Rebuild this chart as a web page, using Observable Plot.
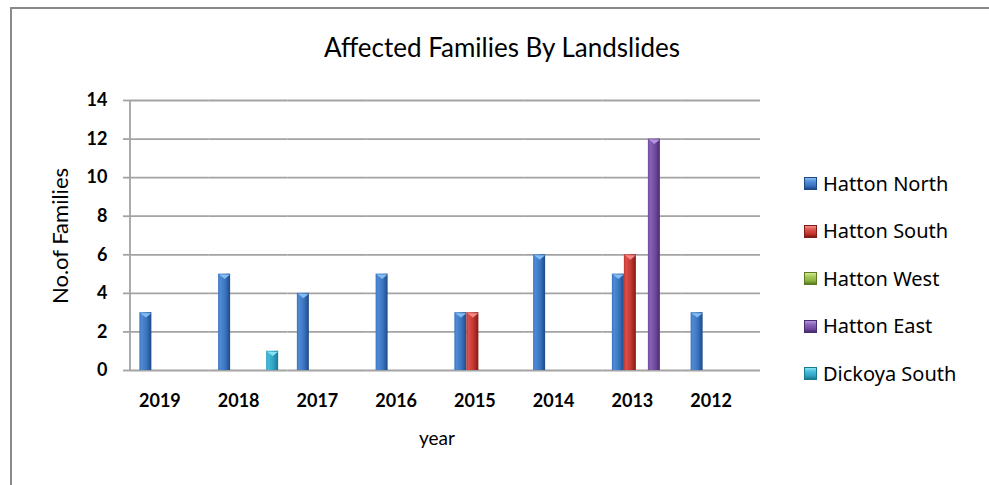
<!DOCTYPE html>
<html>
<head>
<meta charset="utf-8">
<script src="https://cdn.jsdelivr.net/npm/d3@7"></script>
<script src="https://cdn.jsdelivr.net/npm/@observablehq/plot@0.6"></script>
<style>
  html, body { margin: 0; padding: 0; background: #fff; }
  #wrap { position: relative; width: 989px; height: 485px; overflow: hidden; background: #fff; }
  #border { position: absolute; left: 10px; top: 7px; width: 1100px; height: 600px; border: 2px solid #8a8a8a; box-sizing: border-box; }
  #chart { position: absolute; left: 0; top: 0; }
  .title { position: absolute; left: 11px; width: 982px; top: 34px; text-align: center; font-family: Lato, sans-serif; font-size: 26px; line-height: 26px; color: #000; white-space: nowrap; }
  .ylabel { position: absolute; left: 60px; top: 236px; transform: translate(-50%, -50%) rotate(-90deg); font-family: Lato, sans-serif; font-size: 22px; line-height: 22px; color: #000; white-space: nowrap; }
  .xlabel { position: absolute; left: 437px; top: 437px; transform: translate(-50%, -50%); font-family: Lato, sans-serif; font-size: 19px; line-height: 19px; color: #000; white-space: nowrap; }
  .legend { position: absolute; left: 804px; top: 160px; font-family: "Noto Sans", sans-serif; font-size: 20px; color: #000; }
  .legend .item { display: flex; align-items: center; height: 47.5px; line-height: 20px; white-space: nowrap; }
  .legend .sw { width: 13px; height: 13px; margin-right: 6px; box-sizing: border-box; flex: none; }
</style>
</head>
<body>
<div id="wrap">
  <div id="border"></div>
  <div id="chart"></div>
  <div class="title" id="title"></div>
  <div class="ylabel" id="ylabel"></div>
  <div class="xlabel" id="xlabel"></div>
  <div class="legend" id="legend"></div>
</div>
<script>
// ---- data ----
const chartTitle = "Affected Families By Landslides";
const yAxisTitle = "No.of Families";
const xAxisTitle = "year";
const years = ["2019", "2018", "2017", "2016", "2015", "2014", "2013", "2012"];
const seriesNames = ["Hatton North", "Hatton South", "Hatton West", "Hatton East", "Dickoya South"];
const hattonNorth  = [3, 5, 4, 5, 3, 6, 5, 3];
const hattonSouth  = [0, 0, 0, 0, 3, 0, 6, 0];
const hattonWest   = [0, 0, 0, 0, 0, 0, 0, 0];
const hattonEast   = [0, 0, 0, 0, 0, 0, 12, 0];
const dickoyaSouth = [0, 1, 0, 0, 0, 0, 0, 0];
const yTicks = [0, 2, 4, 6, 8, 10, 12, 14];

// ---- styles ----
const palette = [
  { dark: "#1d4a85", base: "#3a74c0", light: "#4f8ad4", tip: "#84bdf2" },
  { dark: "#7e1a17", base: "#c4352f", light: "#d8504a", tip: "#f58a86" },
  { dark: "#5c7a22", base: "#8db33f", light: "#a3c857", tip: "#cfe98c" },
  { dark: "#4a2c74", base: "#71499f", light: "#8562b3", tip: "#b295de" },
  { dark: "#1a7891", base: "#2ea3c3", light: "#45bad8", tip: "#86e2f4" }
];

const valuesBySeries = [hattonNorth, hattonSouth, hattonWest, hattonEast, dickoyaSouth];
const rows = [];
years.forEach((yr, i) => seriesNames.forEach((s, j) => rows.push({ year: yr, series: s, value: valuesBySeries[j][i] })));
const shown = rows.filter(d => d.value > 0);
const sIndex = s => seriesNames.indexOf(s);

const bevel = {
  draw(ctx, size) {
    const w = Math.sqrt(size);
    ctx.moveTo(-w, 0);
    ctx.lineTo(w, 0);
    ctx.lineTo(0, w * 0.8);
    ctx.closePath();
  }
};

const gridColor = "#a3a3a3";

const chart = Plot.plot({
  width: 989,
  height: 485,
  marginLeft: 130,
  marginRight: 229,
  marginTop: 100,
  marginBottom: 115,
  style: { fontFamily: "Lato, sans-serif", fontSize: "18px", fontWeight: 700, color: "#000", background: "transparent", overflow: "visible" },
  fx: { domain: years, padding: 0, round: false, label: null, axis: null },
  x: { domain: seriesNames, paddingInner: 0, paddingOuter: 0.78, round: false, axis: null },
  y: { domain: [0, 14], ticks: yTicks, label: null },
  color: { domain: seriesNames, range: seriesNames.map((_, i) => `url(#barGrad${i})`) },
  marks: [
    Plot.gridY(yTicks, { stroke: gridColor, strokeWidth: 1.8, strokeOpacity: 1 }),
    Plot.axisY(yTicks, { tickSize: 7, tickPadding: 16, stroke: gridColor, strokeWidth: 1.8, label: null, fill: "#000" }),
    Plot.axisFx({ anchor: "bottom", tickSize: 0, tickPadding: 24, dx: -10, label: null, fill: "#000" }),
    Plot.barY(shown, { fx: "year", x: "series", y: "value", fill: "series" }),
    Plot.dot(shown, { fx: "year", x: "series", y: "value", symbol: bevel, r: 3.1, dy: 0.5, stroke: "none",
      fill: { value: d => palette[sIndex(d.series)].tip, scale: null } })
  ]
});

// gradients for bar fills
const svg = d3.select(chart);
const defs = svg.insert("defs", ":first-child");
palette.forEach((p, i) => {
  const g = defs.append("linearGradient").attr("id", `barGrad${i}`).attr("x1", "0%").attr("x2", "100%").attr("y1", "0%").attr("y2", "0%");
  g.append("stop").attr("offset", "0%").attr("stop-color", p.base);
  g.append("stop").attr("offset", "18%").attr("stop-color", p.light);
  g.append("stop").attr("offset", "60%").attr("stop-color", p.base);
  g.append("stop").attr("offset", "100%").attr("stop-color", p.dark);
});

// left axis line from the plot's own scales
const yr = chart.scale("y").range;
const fxr = chart.scale("fx").range;
svg.append("line").attr("x1", fxr[0]).attr("x2", fxr[0]).attr("y1", yr[0]).attr("y2", yr[1])
  .attr("stroke", gridColor).attr("stroke-width", 1.8);

document.getElementById("chart").appendChild(chart);
document.getElementById("title").textContent = chartTitle;
document.getElementById("ylabel").textContent = yAxisTitle;
document.getElementById("xlabel").textContent = xAxisTitle;

const legend = document.getElementById("legend");
seriesNames.forEach((s, i) => {
  const p = palette[i];
  const item = document.createElement("div");
  item.className = "item";
  const sw = document.createElement("span");
  sw.className = "sw";
  sw.style.background = `linear-gradient(to bottom, ${p.tip} 0%, ${p.light} 35%, ${p.base} 70%, ${p.dark} 100%)`;
  sw.style.border = `1px solid ${p.dark}`;
  const t = document.createElement("span");
  t.textContent = s;
  item.appendChild(sw);
  item.appendChild(t);
  legend.appendChild(item);
});
</script>
</body>
</html>
